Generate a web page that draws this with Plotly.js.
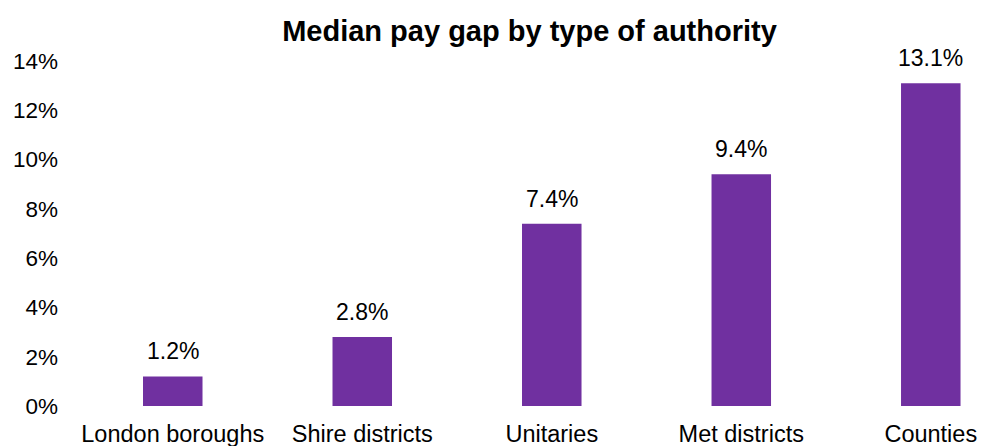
<!DOCTYPE html>
<html>
<head>
<meta charset="utf-8">
<script src="https://cdn.plot.ly/plotly-3.0.1.min.js"></script>
<style>html,body{margin:0;padding:0;background:#fff;}#chart{width:981px;height:446px;}</style>
</head>
<body>
<div id="chart"></div>
<script>
const categories = ["London boroughs", "Shire districts", "Unitaries", "Met districts", "Counties"];
const payGap = [1.2, 2.8, 7.4, 9.4, 13.1];
const yTickVals = [0, 2, 4, 6, 8, 10, 12, 14];
const yTickText = ["0%", "2%", "4%", "6%", "8%", "10%", "12%", "14%"];
const titleText = "Median pay gap by type of authority";

const FONT = "Liberation Sans, Arial, sans-serif";

const trace = {
  type: "bar",
  x: categories,
  y: payGap,
  marker: { color: "#7030A0" },
  hoverinfo: "skip"
};

const annotations = categories.map((c, i) => ({
  x: c,
  y: payGap[i],
  xref: "x",
  yref: "y",
  text: payGap[i].toFixed(1) + "%",
  showarrow: false,
  yanchor: "bottom",
  yshift: 10,
  font: { family: FONT, size: 23, color: "#000" }
}));

const layout = {
  width: 981,
  height: 446,
  margin: { l: 78, r: 0, t: 61, b: 40 },
  paper_bgcolor: "#fff",
  plot_bgcolor: "#fff",
  bargap: 0.686,
  showlegend: false,
  title: {
    text: "<b>" + titleText + "</b>",
    font: { family: FONT, size: 29, color: "#000" },
    x: 0.5,
    xref: "paper",
    y: 27,
    yref: "container",
    yanchor: "middle"
  },
  xaxis: {
    range: [-0.5, 4.265],
    showgrid: false,
    zeroline: false,
    showline: false,
    ticks: "",
    tickfont: { family: FONT, size: 23.5, color: "#000" },
    ticklabelstandoff: 11,
    fixedrange: true
  },
  yaxis: {
    range: [0, 14],
    tickvals: yTickVals,
    ticktext: yTickText,
    showgrid: false,
    zeroline: false,
    showline: false,
    ticks: "",
    tickfont: { family: FONT, size: 22.5, color: "#000" },
    ticklabelstandoff: 19,
    fixedrange: true
  },
  annotations: annotations
};

Plotly.newPlot("chart", [trace], layout, { displayModeBar: false, staticPlot: true });
</script>
</body>
</html>
